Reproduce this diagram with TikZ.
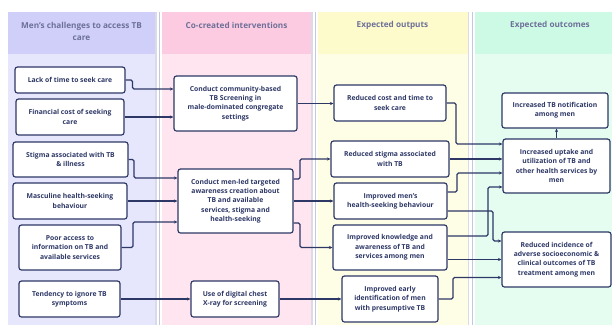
\documentclass[tikz,border=0pt]{standalone}
\usepackage{fontspec}
\setmainfont{Open Sans}
\usetikzlibrary{arrows.meta,calc}
\definecolor{lavH}{HTML}{CFCFFA}
\definecolor{lavB}{HTML}{E6E6FC}
\definecolor{pinkH}{HTML}{FDCBE1}
\definecolor{pinkB}{HTML}{FEE5F0}
\definecolor{yelH}{HTML}{FDFBCB}
\definecolor{yelB}{HTML}{FEFDE5}
\definecolor{grnH}{HTML}{CDFAE5}
\definecolor{grnB}{HTML}{E5FDF1}
\definecolor{navy}{HTML}{2E3866}
\definecolor{headtxt}{HTML}{6E7099}
\definecolor{sepA}{HTML}{DADBE6}
\definecolor{sepB}{HTML}{C3C8DE}
\begin{document}
\begin{tikzpicture}[x=1pt,y=-1pt,
  box/.style={draw=navy,fill=white,line width=1.2pt,rounded corners=2.5pt,
    inner sep=0pt,align=center,text=navy,
    font=\fontsize{6.8}{9.3}\selectfont\bfseries},
  head/.style={align=center,text=headtxt,font=\fontsize{8.2}{12}\selectfont\bfseries},
  conn/.style={draw=navy,line width=1.1pt,rounded corners=1.5pt,
    -{Stealth[length=3.5pt,width=3.2pt]}}]
\useasboundingbox (0,0) rectangle (612,325);
% panels
\fill[lavH] (8,12) rectangle (155,54);
\fill[lavB] (8,54) rectangle (155,325);
\fill[pinkH] (162,12) rectangle (311,54);
\fill[pinkB] (162,54) rectangle (311,325);
\fill[yelH] (318,12) rectangle (467.5,54);
\fill[yelB] (318,54) rectangle (467.5,325);
\fill[grnH] (475,12) rectangle (612,54);
\fill[grnB] (475,54) rectangle (612,325);
% separators
\foreach \xa/\xb in {156/159.2,312/315.6,468.5/472.6}{
  \draw[sepA,line width=1.3pt] (\xa,12) -- (\xa,325);
  \draw[sepB,line width=1.3pt] (\xb,12) -- (\xb,325);
}
% headers
\node[head] (h1) at (81.5,31) {Men's challenges to access TB\\care};
\node[head] (h2) at (236.5,25) {Co-created interventions};
\node[head] (h3) at (392.5,25) {Expected outputs};
\node[head] (h4) at (550,25) {Expected outcomes};
% column 1
\node[box,minimum width=110pt,minimum height=26pt] (a1) at (70,80) {Lack of time to seek care};
\node[box,minimum width=108pt,minimum height=36pt] (a2) at (70,117) {Financial cost of seeking\\care};
\node[box,minimum width=115pt,minimum height=35pt] (a3) at (70.5,159.5) {Stigma associated with TB\\\& illness};
\node[box,minimum width=114pt,minimum height=36pt] (a4) at (70,201) {Masculine health-seeking\\behaviour};
\node[box,minimum width=102pt,minimum height=45pt] (a5) at (70,247.5) {Poor access to\\information on TB and\\available services};
\node[box,minimum width=101pt,minimum height=36pt] (a6) at (69.5,299) {Tendency to ignore TB\\symptoms};
% column 2
\node[box,minimum width=123pt,minimum height=55pt] (b1) at (235.5,103.5) {Conduct community-based\\TB Screening in\\male-dominated congregate\\settings};
\node[box,minimum width=115pt,minimum height=64pt] (b2) at (235.5,201) {Conduct men-led targeted\\awareness creation about\\TB and available\\services, stigma and\\health-seeking};
\node[box,minimum width=88pt,minimum height=36pt] (b3) at (235,299) {Use of digital chest\\X-ray for screening};
% column 3
\node[box,minimum width=112pt,minimum height=36pt] (c1) at (390,103) {Reduced cost and time to\\seek care};
\node[box,minimum width=118pt,minimum height=36pt] (c2) at (390,159) {Reduced stigma associated\\with TB};
\node[box,minimum width=113pt,minimum height=36pt] (c3) at (390.5,201) {Improved men's\\health-seeking behaviour};
\node[box,minimum width=114pt,minimum height=45pt] (c4) at (390,247.5) {Improved knowledge and\\awareness of TB and\\services among men};
\node[box,minimum width=96pt,minimum height=46pt] (c5) at (390,299) {Improved early\\identification of men\\with presumptive TB};
% column 4
\node[box,minimum width=106pt,minimum height=35pt] (d1) at (555,110.5) {Increased TB notification\\among men};
\node[box,minimum width=107pt,minimum height=54pt] (d2) at (556.5,166) {Increased uptake and\\utilization of TB and\\other health services by\\men};
\node[box,minimum width=109pt,minimum height=55pt] (d3) at (556.5,259.5) {Reduced incidence of\\adverse socioeconomic \&\\clinical outcomes of TB\\treatment among men};
% connectors col1 -> col2
\draw[conn] (a1.east) -- (132.5,80) |- ($(b1.west)+(0,-14.5)$);
\draw[conn] (a2.east) -- (a2.east -| b1.west);
\draw[conn] (a3.east) -- (134,159.5) |- ($(b2.west)+(0,-23)$);
\draw[conn] (a4.east) -- (b2.west);
\draw[conn] (a5.east) -- (133,247.5) |- ($(b2.west)+(0,21)$);
\draw[conn] (a6.east) -- (b3.west);
% col2 -> col3
\draw[conn] (b1.east) -- (b1.east -| c1.west);
\draw[conn] ($(b2.east)+(0,-22)$) -- (300,179) |- (c2.west);
\draw[conn] (b2.east) -- (b2.east -| c3.west);
\draw[conn] ($(b2.east)+(0,22)$) -- (300,223) |- (c4.west);
\draw[conn] (b3.east) -- (c5.west);
% col3 -> col4
\draw[conn] (c1.east) -- (456,103) |- ($(d2.west)+(0,-22)$);
\draw[conn] (c2.east) -- (c2.east -| d2.west);
\draw[conn] ($(c3.east)+(0,-9)$) -- (457,192) |- ($(d2.west)+(0,7)$);
\draw[conn] ($(c3.east)+(0,10)$) -- (493,211) |- ($(d3.west)+(0,-18.5)$);
\draw[conn] ($(c4.east)+(0,-11.5)$) -- (488,236) |- ($(d2.west)+(0,21)$);
\draw[conn] (c4.east |- d3.west) -- (d3.west);
\draw[conn] (c5.east) -- (453,299) |- ($(d3.west)+(0,18)$);
\draw[conn] (d2.north) -- (d2.north |- d1.south);
\end{tikzpicture}
\end{document}
